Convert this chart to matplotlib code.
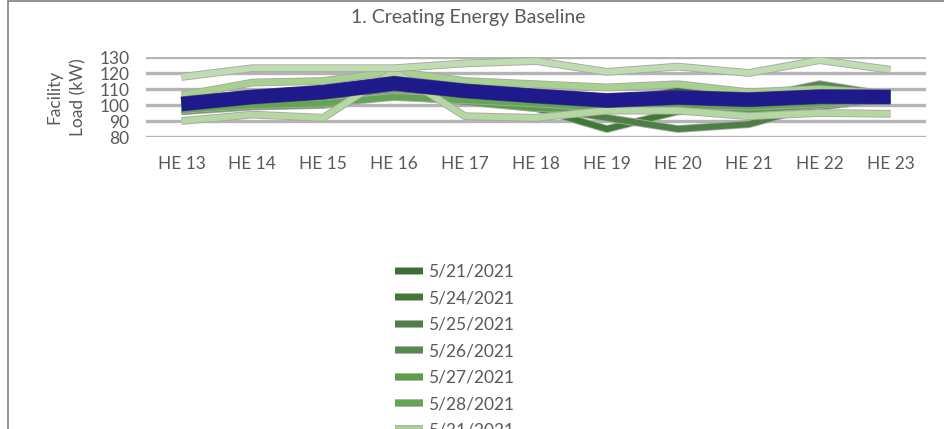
import matplotlib
matplotlib.use('Agg')
import matplotlib.pyplot as plt
import matplotlib.patheffects as pe
from matplotlib.patches import Rectangle

plt.rcParams['font.family'] = ['Lato', 'DejaVu Sans']

hours = ['HE 13', 'HE 14', 'HE 15', 'HE 16', 'HE 17', 'HE 18',
         'HE 19', 'HE 20', 'HE 21', 'HE 22', 'HE 23']

# daily loads (kW)
dates = ['5/21/2021', '5/24/2021', '5/25/2021', '5/26/2021', '5/27/2021',
         '5/28/2021', '5/31/2021', '6/1/2021', '6/2/2021', '6/3/2021']
loads = [
    [99, 103, 105, 110, 112, 104, 101, 109, 105, 107, 105],
    [98, 101, 103, 108, 103, 98, 85, 96, 97, 99, 104],
    [97, 100, 102, 107, 103, 99, 92, 85, 88, 100, 105],
    [101, 105, 107, 112, 106, 103, 100, 106, 104, 113, 106],
    [96, 99, 100, 106, 102, 98, 97, 99, 97, 100, 104],
    [97, 100, 101, 105, 103, 101, 98, 100, 99, 101, 105],
    [106, 114, 115, 121, 115, 113, 111, 113, 108, 110, 107],
    [90, 94, 92, 121, 93, 92, 96.5, 96.5, 93, 95, 94.5],
    [117.5, 123, 123, 123, 126, 127.5, 120.7, 124, 120, 128, 122],
    [103, 107, 109, 115, 110, 107, 104, 105, 103, 106, 105],
]
colors = ['#3b6e32', '#3f7a33', '#4d8045', '#548a4b', '#5a9f48',
          '#63a551', '#a9d18e', '#b5d8a0', '#c0ddb0', '#cbe5bd']

baseline = [100.6, 105, 108, 113.5, 108.8, 105.6, 102.8, 104.7, 103.3, 105.2, 105]

fig = plt.figure(figsize=(9.45, 4.29), dpi=100)
ax = fig.add_axes([146 / 945, 1 - 137 / 429, 780 / 945, 80 / 429])

x = list(range(len(hours)))
handles = []
for d, vals, c in zip(dates, loads, colors):
    ln, = ax.plot(x, vals, color=c, lw=4.3, solid_capstyle='butt', label=d,
                  path_effects=[pe.Stroke(linewidth=5.6, foreground='#a8a8a8'), pe.Normal()],
                  zorder=3)
    handles.append(ln)
bl, = ax.plot(x, baseline, color='#1f1a8c', lw=10, solid_capstyle='butt',
              label='Baseline', zorder=4,
              path_effects=[pe.Stroke(linewidth=10.8, foreground='#4a4a7a'), pe.Normal()])
handles.append(bl)

ax.set_xlim(-0.5, 10.5)
ax.set_ylim(80, 130)
ax.set_yticks([80, 90, 100, 110, 120, 130])
ax.set_xticks(x)
ax.set_xticklabels(hours)
ax.grid(axis='y', color='#b4b4b4', lw=2.4, zorder=1)
ax.set_axisbelow(True)
for s in ax.spines.values():
    s.set_visible(False)
ax.tick_params(length=0, labelsize=12.5, labelcolor='#595959')
ax.tick_params(axis='x', pad=14)
ax.tick_params(axis='y', pad=12)
ax.set_ylabel('Facility\nLoad (kW)', fontsize=12.5, color='#595959',
              linespacing=1.6, labelpad=9)

fig.text(468 / 945, 1 - 17 / 429, '1. Creating Energy Baseline', ha='center',
         va='center', fontsize=14, color='#595959')

leg = fig.legend(handles=handles, loc='upper left',
                 bbox_to_anchor=(388 / 945, 1 - 257 / 429),
                 frameon=False, fontsize=12.5, handlelength=1.6,
                 handletextpad=0.3, labelspacing=0.6, borderaxespad=0)
for t in leg.get_texts():
    t.set_color('#595959')

# outer chart frame (only top and left edges show)
fig.patches.append(Rectangle((8.5 / 945, -0.1), 1.2, 1.1 - 0.8 / 429,
                             transform=fig.transFigure, fill=False,
                             edgecolor='#7f7f7f', lw=1.2))

fig.savefig('out.png', dpi=100)
